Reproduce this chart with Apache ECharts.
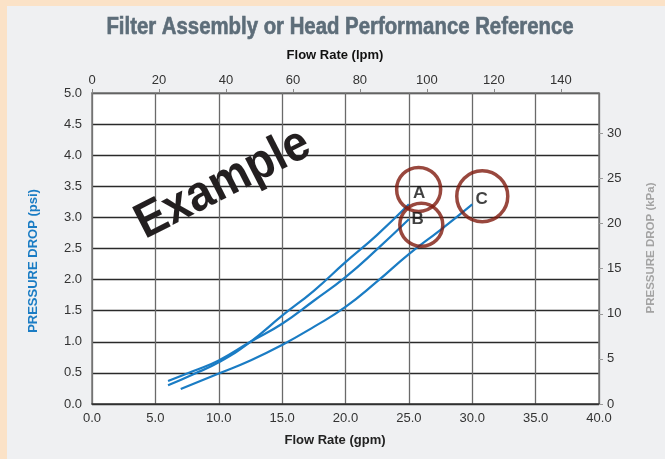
<!DOCTYPE html>
<html>
<head>
<meta charset="utf-8">
<script src="https://cdn.jsdelivr.net/npm/echarts@6/dist/echarts.min.js"></script>
<style>
html,body{margin:0;padding:0;background:#fbe2c7;}
#panel{position:absolute;left:7px;top:6px;right:0;bottom:0;background:#eff0f2;}
#chart{position:absolute;left:0;top:0;width:665px;height:459px;}
</style>
</head>
<body>
<div id="panel"></div>
<div id="chart"></div>
<script>
// Data (gpm, psi)
const curveA = [[6,0.30],[8,0.48],[10,0.67],[12.5,1.0],[15,1.42],[17.5,1.82],[20,2.28],[22.5,2.72],[25,3.21]];
const curveB = [[6,0.37],[8,0.53],[10,0.70],[12.5,1.0],[15,1.29],[17.5,1.66],[20,2.04],[22.5,2.49],[25,2.97]];
const curveC = [[7,0.24],[10,0.49],[12.5,0.70],[15,0.95],[17.5,1.24],[20,1.56],[22.5,1.97],[25,2.41],[27.5,2.80],[30,3.21]];
const circleMarks = [[25.77,3.45],[25.98,2.88],[30.79,3.34]];
const circleSizes = [44,43,51];
const letterNames = ['A','B','C'];
const letterPos = [[25.8,3.39],[25.7,2.97],[30.75,3.29]];
const gpmMax = 40;
const lpmPerGpm = 3.78541;
const psiMax = 5;
const kpaPerPsi = 6.89476;

const chart = echarts.init(document.getElementById('chart'));
const tickFont = {fontFamily:'Liberation Sans, Arial, sans-serif', fontSize:13, color:'#333'};
const blue = '#1a7cc4';
const option = {
  animation:false,
  backgroundColor:'transparent',
  grid:{left:92, right:66, top:93, bottom:55, show:true, backgroundColor:'#ffffff', borderWidth:0},
  graphic:[
    {type:'text', x:340, y:28, scaleX:0.885, style:{text:'Filter Assembly or Head Performance Reference', fill:'#5d6d79', font:'bold 23px "Liberation Sans", Arial, sans-serif', textAlign:'center', textVerticalAlign:'middle', stroke:'#5d6d79', lineWidth:0.6}},
    {type:'text', x:335, y:55, style:{text:'Flow Rate (lpm)', fill:'#111', font:'bold 13px "Liberation Sans", Arial, sans-serif', textAlign:'center', textVerticalAlign:'middle'}},
    {type:'text', x:335, y:440, style:{text:'Flow Rate (gpm)', fill:'#222', font:'bold 13px "Liberation Sans", Arial, sans-serif', textAlign:'center', textVerticalAlign:'middle'}},
    {type:'text', x:33, y:261, rotation:Math.PI/2, style:{text:'PRESSURE DROP (psi)', fill:blue, font:'bold 13px "Liberation Sans", Arial, sans-serif', textAlign:'center', textVerticalAlign:'middle'}},
    {type:'text', x:651, y:248, rotation:Math.PI/2, style:{text:'PRESSURE DROP (kPa)', fill:'#a3a3a3', font:'bold 11.5px "Liberation Sans", Arial, sans-serif', textAlign:'center', textVerticalAlign:'middle'}},
    {type:'text', x:223, y:184, rotation:27*Math.PI/180, scaleX:0.92, z:100, style:{text:'Example', fill:'#231f20', font:'bold 50px "Liberation Sans", Arial, sans-serif', textAlign:'center', textVerticalAlign:'middle'}}
  ],
  xAxis:[
    {type:'value', position:'bottom', min:0, max:gpmMax, interval:5,
     axisLine:{show:true, onZero:false, lineStyle:{color:'#333', width:1.5}}, axisTick:{show:false},
     axisLabel:{...tickFont, margin:8, formatter:v=>v.toFixed(1)},
     splitLine:{show:true, lineStyle:{color:'#6a6a6a', width:1.3}}},
    {type:'value', position:'top', min:0, max:+(gpmMax*lpmPerGpm).toFixed(2), interval:20,
     axisLine:{show:true, onZero:false, lineStyle:{color:'#777', width:1.5}}, axisTick:{show:true, length:4, lineStyle:{color:'#888'}},
     axisLabel:{...tickFont, margin:6, showMaxLabel:false, formatter:v=>String(Math.round(v))},
     splitLine:{show:false}}
  ],
  yAxis:[
    {type:'value', position:'left', min:0, max:psiMax, interval:0.5,
     axisLine:{show:true, onZero:false, lineStyle:{color:'#777', width:1.5}}, axisTick:{show:false},
     axisLabel:{...tickFont, margin:10, formatter:v=>v.toFixed(1)},
     splitLine:{show:true, lineStyle:{color:'#2a2a2a', width:1.3}}},
    {type:'value', position:'right', min:0, max:+(psiMax*kpaPerPsi).toFixed(2), interval:5,
     axisLine:{show:true, onZero:false, lineStyle:{color:'#777', width:1.5}}, axisTick:{show:true, length:4, lineStyle:{color:'#999'}},
     axisLabel:{...tickFont, margin:8, showMaxLabel:false},
     splitLine:{show:false}}
  ],
  series:[
    {type:'line', name:'A', data:curveA, smooth:true, showSymbol:false, lineStyle:{color:blue, width:2.2}, z:3},
    {type:'line', name:'B', data:curveB, smooth:true, showSymbol:false, lineStyle:{color:blue, width:2.2}, z:3},
    {type:'line', name:'C', data:curveC, smooth:true, showSymbol:false, lineStyle:{color:blue, width:2.2}, z:3},
    {type:'scatter', data:circleMarks.map((p,i)=>({value:p, symbolSize:circleSizes[i]})), symbol:'circle',
     itemStyle:{color:'rgba(0,0,0,0)', borderColor:'#7f1a0e', borderWidth:3.5}, z:5},
    {type:'scatter', data:letterPos.map((p,i)=>({value:p, name:letterNames[i]})), symbolSize:1,
     itemStyle:{color:'rgba(0,0,0,0)'},
     label:{show:true, position:'inside', formatter:p=>p.name, color:'#111', fontWeight:'bold', fontSize:17, fontFamily:'Liberation Sans, Arial, sans-serif'}, z:6}
  ]
};
chart.setOption(option);
</script>
</body>
</html>
